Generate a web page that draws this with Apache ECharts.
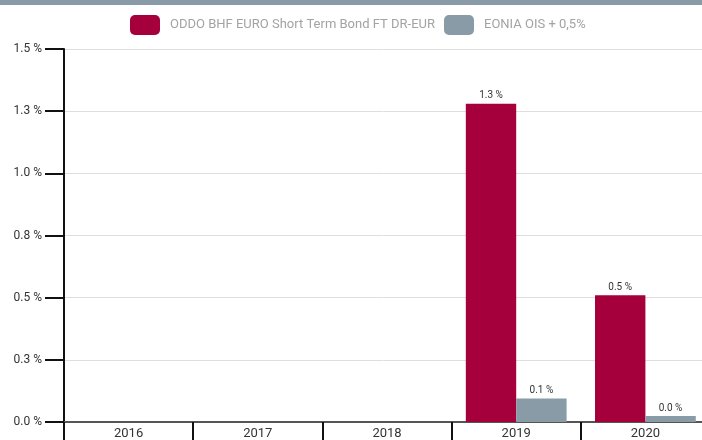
<!DOCTYPE html>
<html><head><meta charset="utf-8">
<script src="https://cdn.jsdelivr.net/npm/echarts@6/dist/echarts.min.js"></script>
<style>html,body{margin:0;padding:0;background:#fff}#c{width:702px;height:440px}</style>
</head><body><div id="c"></div>
<script>
var categories = ['2016','2017','2018','2019','2020'];
var fundName = 'ODDO BHF EURO Short Term Bond FT DR-EUR';
var benchName = 'EONIA OIS + 0,5%';
var fundValues = [null, null, null, 1.28, 0.51];
var benchValues = [null, null, null, 0.095, 0.024];
var FONT = "Roboto,'Open Sans',sans-serif";
var chart = echarts.init(document.getElementById('c'));
function pct(v){ return v.toFixed(1) + ' %'; }
chart.setOption({
  animation: false,
  textStyle: {fontFamily: FONT},
  graphic: [{type:'rect', shape:{x:0,y:0,width:702,height:5}, style:{fill:'#8A9BA8'}}],
  legend: {
    top: 10, left: 125, itemWidth: 30, itemHeight: 20, itemGap: 9,
    itemStyle: {borderRadius: 3},
    textStyle: {color: '#a3a3a3', fontSize: 13, fontFamily: FONT, padding: [0,0,0,5]},
    data: [fundName, benchName]
  },
  grid: {left: 64, top: 49, bottom: 18, width: 646, outerBoundsMode: 'none', containLabel: false},
  xAxis: {
    type: 'category', data: categories,
    axisLine: {lineStyle: {color: '#555', width: 2}},
    axisTick: {show: true, interval: 0, length: 18, lineStyle: {color: '#111', width: 2}},
    axisLabel: {color: '#333', fontSize: 13, margin: 5, fontFamily: FONT}
  },
  yAxis: {
    type: 'value', min: 0, max: 1.5, interval: 0.25,
    axisLine: {show: true, lineStyle: {color: '#111', width: 2}},
    axisTick: {show: true, length: 19, lineStyle: {color: '#111', width: 2}},
    axisLabel: {color: '#333', fontSize: 12, margin: 22, formatter: pct, fontFamily: FONT},
    splitLine: {lineStyle: {color: '#dedede'}}
  },
  series: [
    {name: fundName, type: 'bar', data: fundValues, barGap: '0%', barCategoryGap: '22%',
     itemStyle: {color: '#A5003C'},
     label: {show: true, position: 'top', color: '#333', fontSize: 10, distance: 3, fontFamily: FONT,
             formatter: function(p){ return pct(p.value); }}},
    {name: benchName, type: 'bar', data: benchValues,
     itemStyle: {color: '#8A9BA8'},
     label: {show: true, position: 'top', color: '#333', fontSize: 10, distance: 3, fontFamily: FONT,
             formatter: function(p){ return pct(p.value); }}}
  ]
});
</script></body></html>
